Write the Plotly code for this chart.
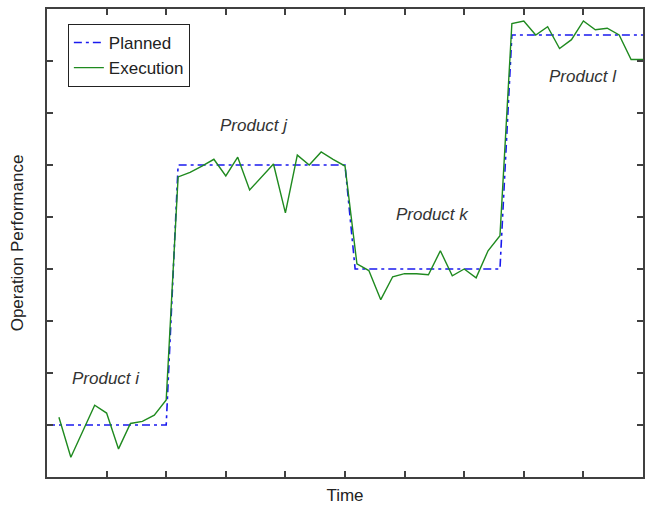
import plotly.graph_objects as go

# Planned step profile
planned_x = [0, 2.0, 2.2, 5.0, 5.17, 7.6, 7.8, 10]
planned_y = [1, 1, 6, 6, 4, 4, 8.5, 8.5]

# Execution samples
exec_x = [0.2, 0.4, 0.6, 0.8, 1.0, 1.2, 1.4, 1.6, 1.8, 2.0,
          2.2, 2.4, 2.6, 2.8, 3.0, 3.2, 3.4, 3.6, 3.8, 4.0, 4.2, 4.4, 4.6, 4.8, 5.0,
          5.2, 5.4, 5.6, 5.8, 6.0, 6.2, 6.4, 6.6, 6.8, 7.0, 7.2, 7.4, 7.6,
          7.8, 8.0, 8.2, 8.4, 8.6, 8.8, 9.0, 9.2, 9.4, 9.6, 9.8, 10.0]
exec_y = [1.15, 0.38, 0.88, 1.38, 1.23, 0.54, 1.03, 1.07, 1.19, 1.48,
          5.77, 5.86, 5.98, 6.11, 5.79, 6.15, 5.52, 5.77, 6.02, 5.08, 6.19, 6.0, 6.25, 6.11, 5.98,
          4.1, 3.97, 3.41, 3.85, 3.91, 3.91, 3.89, 4.35, 3.87, 4.0, 3.83, 4.35, 4.64,
          8.72, 8.77, 8.5, 8.66, 8.24, 8.41, 8.77, 8.6, 8.63, 8.5, 8.03, 8.03]

labels = ["Product i", "Product j", "Product k", "Product l"]
label_x = [0.99, 3.47, 6.46, 9.0]
label_y = [1.9, 6.76, 5.04, 7.7]

x_ticks = [1, 2, 3, 4, 5, 6, 7, 8, 9]
y_ticks = [1, 2, 3, 4, 5, 6, 7, 8]

FONT = "Liberation Sans, Arial, sans-serif"

fig = go.Figure()
fig.add_trace(go.Scatter(x=planned_x, y=planned_y, mode="lines", name="Planned",
                         line=dict(color="#1a1aee", width=1.6, dash="8px,4px,3px,4px")))
fig.add_trace(go.Scatter(x=exec_x, y=exec_y, mode="lines", name="Execution",
                         line=dict(color="#1f8a1f", width=1.4)))

for t, xx, yy in zip(labels, label_x, label_y):
    fig.add_annotation(x=xx, y=yy, text=t, showarrow=False,
                       font=dict(family=FONT, size=17, color="#333333", style="italic"))

axis_common = dict(showgrid=False, zeroline=False, showline=True, linecolor="#404040",
                   linewidth=2, mirror="ticks", ticks="inside", ticklen=6,
                   tickcolor="#404040", tickwidth=1.5, showticklabels=False)

fig.update_xaxes(range=[0, 10], tickvals=x_ticks,
                 title=dict(text="Time", font=dict(family=FONT, size=17, color="#222222"), standoff=11),
                 **axis_common)
fig.update_yaxes(range=[0, 9], tickvals=y_ticks,
                 title=dict(text="Operation Performance", font=dict(family=FONT, size=17, color="#222222"), standoff=17),
                 **axis_common)

fig.update_layout(
    width=652, height=510,
    margin=dict(l=47, r=9, t=7, b=33),
    plot_bgcolor="white", paper_bgcolor="white",
    font=dict(family=FONT, size=17, color="#222222"),
    legend=dict(x=0.035, y=0.968, xanchor="left", yanchor="top",
                bordercolor="#222222", borderwidth=1, bgcolor="white",
                font=dict(family=FONT, size=17, color="#222222"),
                itemwidth=30),
    showlegend=True,
)

fig.write_html("out.html")
